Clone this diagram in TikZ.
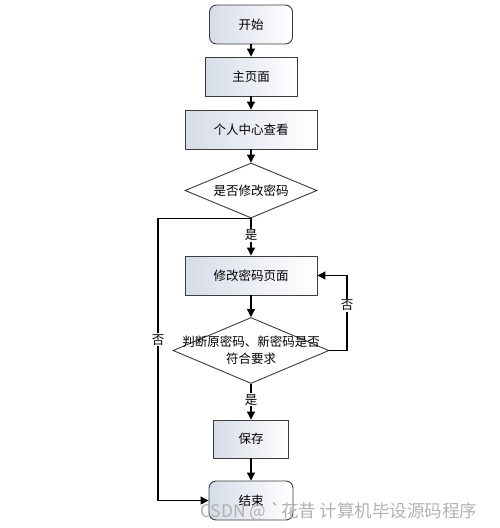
\documentclass[tikz,border=0pt]{standalone}
\usepackage{fontspec}
\newfontfamily\cjk{Noto Sans CJK SC}
\usetikzlibrary{arrows.meta,shapes.geometric}
\definecolor{boxshade}{RGB}{214,220,232}
\definecolor{edgecol}{RGB}{60,60,60}
\tikzset{
  x=1pt,y=-1pt,
  every node/.style={font=\cjk\fontsize{12.5}{17}\selectfont},
  procbox/.style={draw=edgecol,line width=0.9pt,left color=boxshade,right color=white,minimum height=39pt,inner sep=0pt},
  termbox/.style={procbox,rounded corners=7pt},
  decbox/.style={draw=edgecol,line width=0.9pt,fill=white,diamond,aspect=2.4,inner sep=0pt},
  flow/.style={line width=1.1pt,-{Triangle[width=8pt,length=8pt]}},
  lbl/.style={fill=white,inner sep=1pt}
}
\begin{document}
\begin{tikzpicture}
\useasboundingbox (0,0) rectangle (500,528);
\node[termbox,minimum width=83pt] (start) at (251,24.5) {开始};
\node[procbox,minimum width=92pt] (home) at (251,76.5) {主页面};
\node[procbox,minimum width=132pt] (center) at (251,129.5) {个人中心查看};
\node[decbox,minimum width=132pt,minimum height=55pt] (q1) at (251,190.5) {是否修改密码};
\node[procbox,minimum width=132pt] (edit) at (251,275.5) {修改密码页面};
\node[decbox,minimum width=156pt,minimum height=66pt] (q2) at (251,350.5) {};
\node[align=center,inner sep=0pt] (q2t) at (q2.center) {判断原密码、新密码是否\\符合要求};
\node[procbox,minimum width=75pt,minimum height=38pt] (save) at (251,439) {保存};
\node[termbox,minimum width=84pt] (end) at (251,500.5) {结束};
\coordinate (lx) at (158,0);
\coordinate (rx) at (347,0);

\draw[flow] (start) -- (home);
\draw[flow] (home) -- (center);
\draw[flow] (center) -- (q1);
\draw[flow] (q1) -- node[lbl,pos=0.45] {是} (edit);
\draw[flow] (edit) -- (q2);
\draw[flow] (q2) -- node[lbl,pos=0.45] {是} (save);
\draw[flow] (save) -- (end);
\draw[flow] (q2.east) -| (rx |- q2.east) -- node[lbl,pos=0.6] {否} (rx |- edit.east) -- (edit.east);
\draw[flow] (q1.south) -- (lx |- q1.south) -- node[lbl,pos=0.43] {否} (lx |- end.west) -- (end.west);

\node[text=gray!60,font=\cjk\fontsize{17.5}{19}\selectfont,anchor=base west,inner sep=0pt] (wm) at (200,517) {CSDN @ `花昔 计算机毕设源码程序};
\end{tikzpicture}
\end{document}
